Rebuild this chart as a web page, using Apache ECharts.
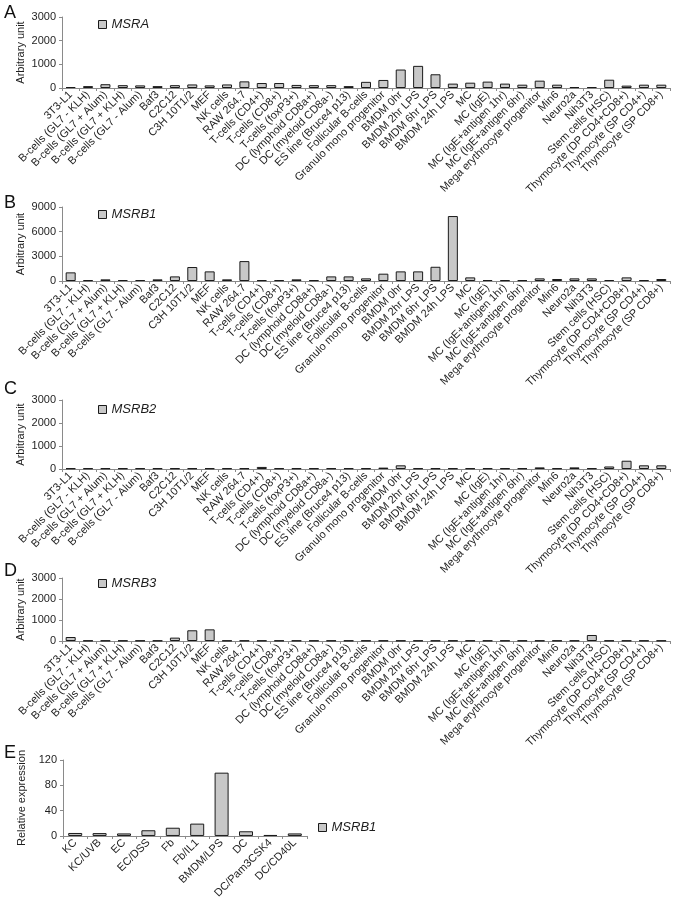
<!DOCTYPE html>
<html>
<head>
<meta charset="utf-8">
<script src="https://cdn.jsdelivr.net/npm/echarts@6/dist/echarts.min.js"></script>
<style>
html,body{margin:0;padding:0;background:#fff;}
#c{width:675px;height:901px;}
</style>
</head>
<body>
<div id="c"></div>
<script>
const cellLines = ["3T3-L1","B-cells (GL7 - KLH)","B-cells (GL7 + Alum)","B-cells (GL7 + KLH)","B-cells (GL7 - Alum)","Baf3","C2C12","C3H 10T1/2","MEF","NK cells","RAW 264.7","T-cells (CD4+)","T-cells (CD8+)","T-cells (foxP3+)","DC (lymphoid CD8a+)","DC (myeloid CD8a-)","ES line (Bruce4 p13)","Follicular B-cells","Granulo mono progenitor","BMDM 0hr","BMDM 2hr LPS","BMDM 6hr LPS","BMDM 24h LPS","MC","MC (IgE)","MC (IgE+antigen 1hr)","MC (IgE+antigen 6hr)","Mega erythrocyte progenitor","Min6","Neuro2a","Nih3T3","Stem cells (HSC)","Thymocyte (DP CD4+CD8+)","Thymocyte (SP CD4+)","Thymocyte (SP CD8+)"];

const msra  = [40,80,160,120,110,80,120,150,110,150,280,210,210,130,120,120,80,260,340,780,935,580,185,225,270,185,140,310,140,40,40,350,100,140,140];
const msrb1 = [1050,100,200,120,120,200,560,1700,1170,200,2420,100,100,200,100,560,560,320,890,1170,1170,1730,7900,440,120,100,100,320,240,320,320,120,440,100,240];
const msrb2 = [30,30,30,30,30,30,30,30,30,30,30,90,30,30,30,30,30,30,60,160,30,30,30,30,30,30,30,70,30,70,30,110,360,160,160];
const msrb3 = [190,20,20,20,20,20,160,510,555,20,20,20,20,20,20,20,20,20,20,20,20,20,20,20,20,20,20,20,20,20,286,20,20,20,20];

const eCats  = ["KC","KC/UVB","EC","EC/DSS","Fb","Fb/IL1","BMDM/LPS","DC","DC/Pam3CSK4","DC/CD40L"];
const eMsrb1 = [4.7,4.5,4,9,13,19.5,100,7.4,1.5,4];

const yMaxA = 3000, yIntA = 1000;
const yMaxB = 9000, yIntB = 3000;
const yMaxE = 120, yIntE = 40;

const FONT = 'Liberation Sans, Arial, sans-serif';
const axisCol = '#8a8a8a';
const txtCol = '#1e1e1e';

const grids = [
  {left:62, top:17,  width:608, height:71},
  {left:62, top:207, width:608, height:74},
  {left:62, top:400, width:608, height:69},
  {left:62, top:578, width:608, height:63},
  {left:63, top:760, width:244, height:76}
];

function xAx(i, data){
  return {
    type:'category', gridIndex:i, data:data,
    axisLine:{lineStyle:{color:axisCol,width:1}},
    axisTick:{show:true,length:3,lineStyle:{color:axisCol}},
    axisLabel:{interval:0, rotate:45, fontSize:11, color:txtCol, fontFamily:FONT, margin:5}
  };
}
function yAx(i, max, interval, name){
  return {
    type:'value', gridIndex:i, min:0, max:max, interval:interval,
    name:name, nameLocation:'middle', nameRotate:90, nameGap:36, nameMoveOverlap:false,
    nameTextStyle:{fontSize:11, color:txtCol, fontFamily:FONT},
    axisLine:{show:true, lineStyle:{color:axisCol,width:1}},
    axisTick:{show:true,length:3,lineStyle:{color:axisCol}},
    splitLine:{show:false},
    axisLabel:{fontSize:11, color:txtCol, fontFamily:FONT, margin:6, formatter:function(v){return String(v);}}
  };
}
const barStyle = {color:'#c8c8c8', borderColor:'#1a1a1a', borderWidth:1};
function ser(name, i, data, bw){
  return {name:name, type:'bar', xAxisIndex:i, yAxisIndex:i, data:data,
    barWidth:bw, itemStyle:barStyle, animation:false, silent:true};
}
function leg(name, left, top){
  return {data:[{name:name, icon:'rect'}], left:left, top:top, itemWidth:8, itemHeight:8, padding:0,
    textStyle:{fontSize:13, fontStyle:'italic', color:txtCol, fontFamily:FONT},
    itemStyle:{borderColor:'#1a1a1a', borderWidth:1}};
}
function ttl(t, top){
  return {text:t, left:4, top:top, padding:0,
    textStyle:{fontSize:18, fontWeight:'normal', color:'#111', fontFamily:FONT}};
}

const option = {
  animation:false,
  backgroundColor:'#fff',
  title:[ttl('A',4), ttl('B',194), ttl('C',380), ttl('D',562), ttl('E',744)],
  grid: grids,
  xAxis:[xAx(0,cellLines), xAx(1,cellLines), xAx(2,cellLines), xAx(3,cellLines), xAx(4,eCats)],
  yAxis:[yAx(0,yMaxA,yIntA,'Arbitrary unit'), yAx(1,yMaxB,yIntB,'Arbitrary unit'),
         yAx(2,yMaxA,yIntA,'Arbitrary unit'), yAx(3,yMaxA,yIntA,'Arbitrary unit'),
         yAx(4,yMaxE,yIntE,'Relative expression')],
  legend:[leg('MSRA',98,18), leg('MSRB1',98,208), leg('MSRB2',98,403), leg('MSRB3',98,577), leg('MSRB1 ',318,821)],
  series:[
    ser('MSRA',0,msra,10),
    ser('MSRB1',1,msrb1,10),
    ser('MSRB2',2,msrb2,10),
    ser('MSRB3',3,msrb3,10),
    ser('MSRB1 ',4,eMsrb1,14)
  ]
};
const chart = echarts.init(document.getElementById('c'), null, {renderer:'canvas'});
chart.setOption(option);
</script>
</body>
</html>
